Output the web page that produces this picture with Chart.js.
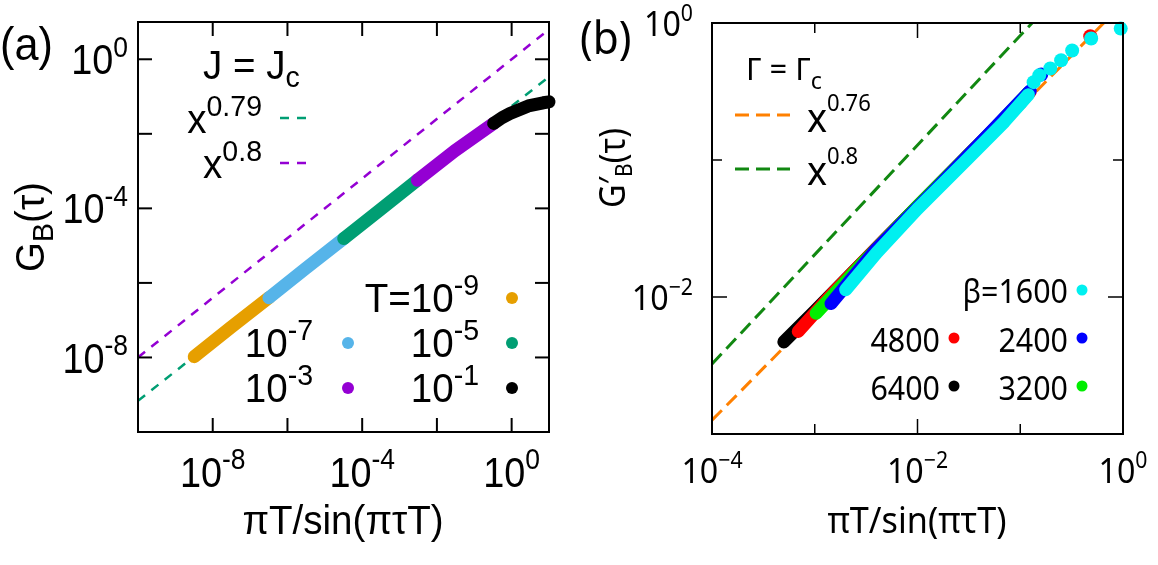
<!DOCTYPE html>
<html lang="en">
<head>
<meta charset="UTF-8">
<title>G_B scaling collapse</title>
<script src="https://cdn.jsdelivr.net/npm/chart.js"></script>
<style>
  body { margin: 0; background: #fff; }
  #wrap { position: relative; width: 1158px; height: 565px; }
  .panel { position: absolute; top: 0; }
</style>
</head>
<body>
<div id="wrap">
  <div class="panel" style="left:0"><canvas id="chartA" width="580" height="565"></canvas></div>
  <div class="panel" style="left:580px"><canvas id="chartB" width="578" height="565"></canvas></div>
</div>
<script>
// ---------- panel (a): J = Jc ----------
const aXTicks = [1e-8, 1e-6, 1e-4, 1e-2, 1];
const aXTickLabels = ['10^{-8}', '', '10^{-4}', '', '10^{0}'];
const aYTicks = [1e-8, 1e-6, 1e-4, 1e-2, 1];
const aYTickLabels = ['10^{-8}', '', '10^{-4}', '', '10^{0}'];

const aT9 = [[3.2e-9, 1.05e-8], [3.0e-8, 6.3e-8], [3.2e-7, 4.0e-7]];
const aT7 = [[3.2e-7, 4.0e-7], [3.0e-6, 2.4e-6], [3.2e-5, 1.55e-5]];
const aT5 = [[3.2e-5, 1.55e-5], [3.0e-4, 9.1e-5], [3.0e-3, 5.7e-4]];
const aT3 = [[3.0e-3, 5.7e-4], [3.0e-2, 3.5e-3], [3.3e-1, 1.9e-2]];
const aT1 = [[3.3e-1, 1.9e-2], [0.55, 2.7e-2], [0.9, 3.5e-2], [2.8, 5.6e-2], [7, 6.8e-2], [10, 7.2e-2]];
const aFit079 = [[1e-10, 6.9e-10], [10, 0.34]];
const aFit08 = [[1e-10, 1e-8], [10, 6.3]];

// ---------- panel (b): Gamma = Gamma_c ----------
const bXTicks = [1e-4, 1e-3, 1e-2, 1e-1, 1];
const bXTickLabels = ['10^{−4}', '', '10^{−2}', '', '10^{0}'];
const bYTicks = [1e-3, 1e-2, 1e-1, 1];
const bYTickLabels = ['', '10^{−2}', '', '10^{0}'];

const b6400 = [[5.0e-4, 4.7e-3], [1e-3, 7.9e-3], [3.16e-3, 1.9e-2], [1e-2, 4.6e-2], [3.16e-2, 0.11], [0.1, 0.26], [0.12, 0.31]];
const b4800 = [[6.9e-4, 5.6e-3], [1.5e-3, 1.07e-2], [5e-3, 2.7e-2], [2e-2, 7.6e-2], [8e-2, 0.22], [0.125, 0.315]];
const b4800Tail = [[0.48, 0.8]];
const b3200 = [[1.03e-3, 7.6e-3], [3e-3, 1.8e-2], [1e-2, 4.6e-2], [4e-2, 0.13], [0.12, 0.31]];
const b2400 = [[1.44e-3, 8.95e-3], [4e-3, 2.25e-2], [1.5e-2, 6.1e-2], [6e-2, 0.18], [0.125, 0.32]];
const b2400Tail = [[0.16, 0.42]];
const b1600 = [[2.0e-3, 1.13e-2], [4e-3, 2.1e-2], [1e-2, 4.4e-2], [3e-2, 0.1], [7e-2, 0.19], [0.12, 0.3]];
const b1600Tail = [[0.135, 0.37], [0.153, 0.415], [0.196, 0.465], [0.25, 0.535], [0.32, 0.63], [0.49, 0.77], [0.95, 0.91]];
const bFit076 = [[1e-4, 1.26e-3], [1, 1.39]];
const bFit08 = [[1e-4, 3.24e-3], [1, 5.1]];

const pts = arr => arr.map(p => ({ x: p[0], y: p[1] }));

// simple ^{} / _{} markup text on the canvas
function parseRich(str) {
    const segs = [];
    let buf = '', i = 0;
    while (i < str.length) {
        const c = str[i];
        if ((c === '^' || c === '_') && i + 1 < str.length) {
            if (buf) { segs.push({ t: buf, m: 0 }); buf = ''; }
            const mode = c === '^' ? 1 : -1;
            if (str[i + 1] === '{') {
                const j = str.indexOf('}', i + 2);
                segs.push({ t: str.slice(i + 2, j), m: mode });
                i = j + 1;
            } else {
                segs.push({ t: str[i + 1], m: mode });
                i += 2;
            }
        } else { buf += c; i++; }
    }
    if (buf) segs.push({ t: buf, m: 0 });
    return segs;
}

function drawRich(ctx, str, x, y, o) {
    const segs = parseRich(str);
    const small = o.size * (o.scr || 0.7);
    const sx = o.sx || 1;
    const fontFor = m => (m ? small : o.size) + 'px "' + o.family + '"';
    let w = 0;
    segs.forEach(s => { ctx.font = fontFor(s.m); s.w = ctx.measureText(s.t).width; w += s.w; });
    ctx.save();
    ctx.translate(x, y);
    if (o.rot) ctx.rotate(o.rot);
    ctx.scale(sx, 1);
    let cx = o.align === 'right' ? -w : o.align === 'center' ? -w / 2 : 0;
    ctx.fillStyle = o.color || '#000';
    ctx.textAlign = 'left';
    ctx.textBaseline = 'alphabetic';
    segs.forEach(s => {
        ctx.font = fontFor(s.m);
        const dy = s.m === 1 ? -o.size * (o.up || 0.42) : s.m === -1 ? o.size * (o.down || 0.22) : 0;
        ctx.fillText(s.t, cx, dy);
        cx += s.w;
    });
    ctx.restore();
}

function line(ctx, x1, y1, x2, y2) {
    ctx.beginPath(); ctx.moveTo(x1, y1); ctx.lineTo(x2, y2); ctx.stroke();
}

function dot(ctx, x, y, r, color) {
    ctx.beginPath(); ctx.arc(x, y, r, 0, Math.PI * 2); ctx.fillStyle = color; ctx.fill();
}

function dash(ctx, x1, x2, y, color, width, pattern) {
    ctx.save();
    ctx.strokeStyle = color; ctx.lineWidth = width; ctx.setLineDash(pattern);
    line(ctx, x1, y, x2, y);
    ctx.restore();
}

// frame with inward ticks on all four sides
function drawFrame(chart, o) {
    const { ctx, chartArea: a, scales } = chart;
    ctx.save();
    ctx.strokeStyle = '#000';
    ctx.lineWidth = o.tickWidth;
    o.xTicks.forEach((v, i) => {
        const px = scales.x.getPixelForValue(v);
        const len = o.xLabels[i] ? o.major : o.minor;
        line(ctx, px, a.bottom, px, a.bottom - len);
        line(ctx, px, a.top, px, a.top + len);
    });
    o.yTicks.forEach((v, i) => {
        const py = scales.y.getPixelForValue(v);
        const len = o.yLabels[i] ? o.major : o.minor;
        line(ctx, a.left, py, a.left + len, py);
        line(ctx, a.right, py, a.right - len, py);
    });
    ctx.lineWidth = o.frameWidth;
    ctx.strokeRect(a.left, a.top, a.right - a.left, a.bottom - a.top);
    const font = { size: o.fontSize, family: o.family, scr: o.scr, up: o.up, sx: o.sx };
    o.xTicks.forEach((v, i) => {
        if (!o.xLabels[i]) return;
        drawRich(ctx, o.xLabels[i], scales.x.getPixelForValue(v), o.xLabelBase, Object.assign({ align: 'center' }, font));
    });
    o.yTicks.forEach((v, i) => {
        if (!o.yLabels[i]) return;
        drawRich(ctx, o.yLabels[i], o.yLabelRight, scales.y.getPixelForValue(v) + o.fontSize * 0.36, Object.assign({ align: 'right' }, font));
    });
    ctx.restore();
}

function band(data, color, width) {
    return {
        data: pts(data), showLine: true, borderColor: color, backgroundColor: color,
        borderWidth: width, borderCapStyle: 'round', borderJoinStyle: 'round',
        pointRadius: 0, clip: 8
    };
}

function fit(data, color, width, pattern) {
    return {
        data: pts(data), showLine: true, borderColor: color, borderWidth: width,
        borderDash: pattern, pointRadius: 0, clip: 0
    };
}

function markers(data, color, r) {
    return {
        data: pts(data), showLine: false, pointRadius: r, pointBorderWidth: 0,
        pointBackgroundColor: color, pointBorderColor: color, clip: 8
    };
}

const baseOptions = (padding, xmin, xmax, ymin, ymax) => ({
    responsive: false,
    animation: false,
    devicePixelRatio: 1,
    layout: { padding: padding },
    plugins: { legend: { display: false }, tooltip: { enabled: false } },
    scales: {
        x: { type: 'logarithmic', min: xmin, max: xmax, display: false },
        y: { type: 'logarithmic', min: ymin, max: ymax, display: false }
    }
});

const fA = 'Liberation Sans';
const fB = 'Noto Sans';

// ---- chart (a) ----
new Chart(document.getElementById('chartA'), {
    type: 'scatter',
    data: {
        datasets: [
            band(aT1, '#000000', 13),
            band(aT3, '#9400d3', 13),
            band(aT5, '#009e73', 13),
            band(aT7, '#56b4e9', 13),
            band(aT9, '#e69f00', 13),
            fit(aFit079, '#009e73', 2.5, [9, 8]),
            fit(aFit08, '#9400d3', 2.5, [9, 8])
        ]
    },
    options: baseOptions({ left: 138, right: 31, top: 22, bottom: 133 }, 1e-10, 10, 1e-10, 10),
    plugins: [{
        id: 'decorA',
        afterDraw(chart) {
            const ctx = chart.ctx;
            drawFrame(chart, {
                xTicks: aXTicks, xLabels: aXTickLabels, yTicks: aYTicks, yLabels: aYTickLabels,
                major: 14, minor: 14, tickWidth: 2, frameWidth: 2,
                fontSize: 42, family: fA, scr: 0.7, up: 0.42, sx: 0.9,
                xLabelBase: 487, yLabelRight: 128
            });
            const t = { size: 41, family: fA, scr: 0.74, up: 0.42, sx: 0.94 };
            drawRich(ctx, '(a)', 0, 60, { size: 47, family: fA, sx: 0.92 });
            drawRich(ctx, 'G_{B}(τ)', 44, 227, Object.assign({}, t, { align: 'center', rot: -Math.PI / 2 }));
            drawRich(ctx, 'πT/sin(πτT)', 343, 534, Object.assign({}, t, { align: 'center' }));
            // key: fits
            drawRich(ctx, 'J = J_{c}', 203, 79, Object.assign({}, t, { down: 0.2 }));
            drawRich(ctx, 'x^{0.79}', 262, 133, Object.assign({}, t, { align: 'right' }));
            dash(ctx, 280, 310, 118, '#009e73', 2.5, [9, 8]);
            drawRich(ctx, 'x^{0.8}', 262, 178, Object.assign({}, t, { align: 'right' }));
            dash(ctx, 280, 310, 163, '#9400d3', 2.5, [9, 8]);
            // key: temperatures
            drawRich(ctx, 'T=10^{-9}', 479, 312, Object.assign({}, t, { align: 'right' }));
            dot(ctx, 512, 298, 6, '#e69f00');
            drawRich(ctx, '10^{-7}', 313, 357, Object.assign({}, t, { align: 'right' }));
            dot(ctx, 348, 343, 6, '#56b4e9');
            drawRich(ctx, '10^{-5}', 479, 357, Object.assign({}, t, { align: 'right' }));
            dot(ctx, 512, 343, 6, '#009e73');
            drawRich(ctx, '10^{-3}', 313, 402, Object.assign({}, t, { align: 'right' }));
            dot(ctx, 348, 388, 6, '#9400d3');
            drawRich(ctx, '10^{-1}', 479, 402, Object.assign({}, t, { align: 'right' }));
            dot(ctx, 512, 388, 6, '#000000');
        }
    }]
});

// ---- chart (b) ----
new Chart(document.getElementById('chartB'), {
    type: 'scatter',
    data: {
        datasets: [
            markers(b1600Tail, '#00f0f0', 7),
            band(b1600, '#00f0f0', 13),
            markers(b2400Tail, '#0000ff', 7),
            band(b2400, '#0000ff', 13),
            band(b3200, '#00ee00', 13),
            markers(b4800Tail, '#ff0000', 7),
            band(b4800, '#ff0000', 13),
            band(b6400, '#000000', 13),
            fit(bFit076, '#ff8000', 3, [14, 7]),
            fit(bFit08, '#118811', 3, [14, 7])
        ]
    },
    options: baseOptions({ left: 132, right: 35, top: 23, bottom: 131 }, 1e-4, 1, 1e-3, 1),
    plugins: [{
        id: 'decorB',
        afterDraw(chart) {
            const ctx = chart.ctx;
            drawFrame(chart, {
                xTicks: bXTicks, xLabels: bXTickLabels, yTicks: bYTicks, yLabels: bYTickLabels,
                major: 15, minor: 10, tickWidth: 1.5, frameWidth: 2,
                fontSize: 35, family: fB, scr: 0.66, up: 0.42, sx: 0.92,
                xLabelBase: 483, yLabelRight: 113
            });
            const t = { size: 32, family: fB, scr: 0.7, up: 0.42, sx: 0.95 };
            drawRich(ctx, '(b)', 0, 54, { size: 46, family: fB, sx: 0.92 });
            drawRich(ctx, 'G′_{B}(τ)', 45, 168, { size: 36, family: fB, scr: 0.65, down: 0.2, sx: 0.9, align: 'center', rot: -Math.PI / 2 });
            drawRich(ctx, 'πT/sin(πτT)', 337, 533, { size: 36, family: fB, sx: 0.95, align: 'center' });
            // key: fits
            drawRich(ctx, 'Γ = Γ_{c}', 166, 80, { size: 31, family: fB, scr: 0.75, down: 0.3 });
            dash(ctx, 155, 210, 115, '#ff8000', 3, [14, 7]);
            drawRich(ctx, 'x^{0.76}', 227, 132, { size: 40, family: fB, scr: 0.58, up: 0.52, sx: 0.95 });
            dash(ctx, 155, 210, 169, '#118811', 3, [14, 7]);
            drawRich(ctx, 'x^{0.8}', 227, 185, { size: 40, family: fB, scr: 0.58, up: 0.52, sx: 0.95 });
            // key: beta
            drawRich(ctx, 'β=1600', 488, 303, Object.assign({}, t, { align: 'right' }));
            dot(ctx, 502, 290, 5.5, '#00f0f0');
            drawRich(ctx, '4800', 360, 352, Object.assign({}, t, { align: 'right' }));
            dot(ctx, 374, 338, 5.5, '#ff0000');
            drawRich(ctx, '2400', 488, 352, Object.assign({}, t, { align: 'right' }));
            dot(ctx, 502, 338, 5.5, '#0000ff');
            drawRich(ctx, '6400', 360, 400, Object.assign({}, t, { align: 'right' }));
            dot(ctx, 374, 386, 5.5, '#000000');
            drawRich(ctx, '3200', 488, 400, Object.assign({}, t, { align: 'right' }));
            dot(ctx, 502, 386, 5.5, '#00ee00');
        }
    }]
});
</script>
</body>
</html>
